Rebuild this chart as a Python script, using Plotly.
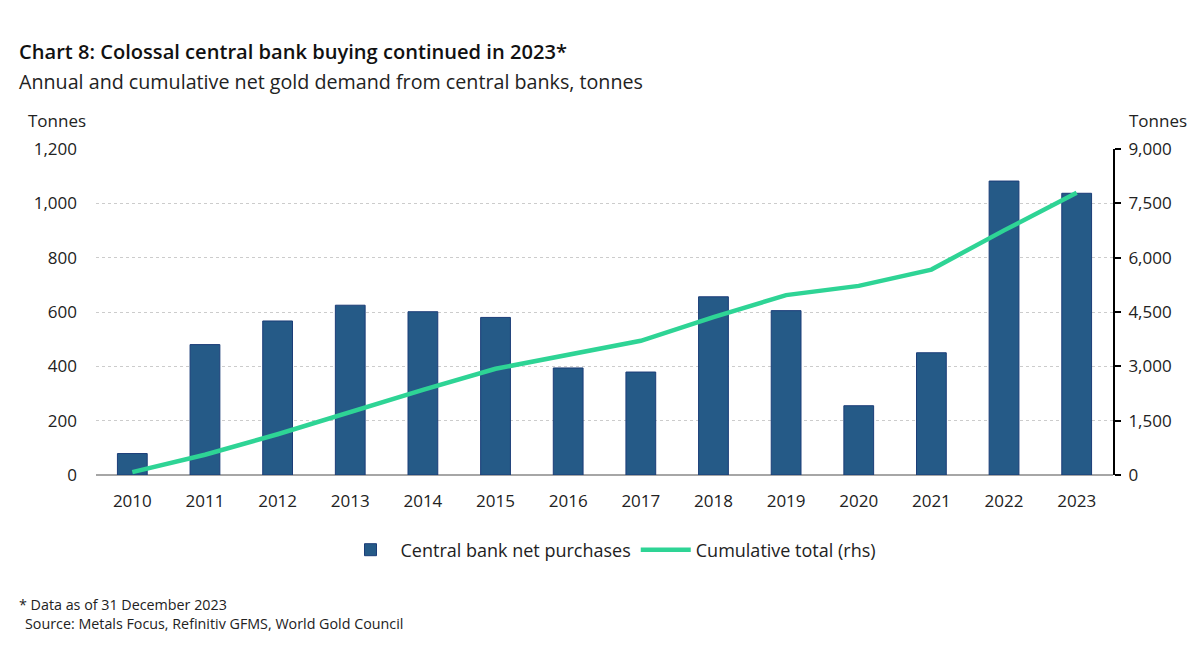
import plotly.graph_objects as go

years = ["2010", "2011", "2012", "2013", "2014", "2015", "2016", "2017",
         "2018", "2019", "2020", "2021", "2022", "2023"]
net_purchases = [79, 480, 567, 625, 601, 580, 394, 379, 656, 605, 255, 450, 1082, 1037]
cumulative = [79, 559, 1126, 1751, 2352, 2932, 3326, 3705, 4361, 4966, 5221, 5671, 6753, 7790]

left_ticks = [0, 200, 400, 600, 800, 1000, 1200]
right_ticks = [0, 1500, 3000, 4500, 6000, 7500, 9000]

FONT = "Open Sans"
TXT = "#222222"

# plot area in pixels
X0, X1, Y0, Y1 = 96, 1113, 149, 475
def px(x):
    return (x - X0) / (X1 - X0)
def py(y):
    return (Y1 - y) / (Y1 - Y0)

fig = go.Figure()
fig.add_trace(go.Bar(
    x=years, y=net_purchases, name="Central bank net purchases",
    marker=dict(color="#255A87", line=dict(color="#1B3D78", width=1)),
    yaxis="y",
))
fig.add_trace(go.Scatter(
    x=years, y=cumulative, name="Cumulative total (rhs)", mode="lines",
    line=dict(color="#2ED495", width=4.5),
    yaxis="y2",
))

fig.update_layout(
    width=1200, height=650,
    margin=dict(l=X0, r=1200 - X1, t=Y0, b=650 - Y1),
    paper_bgcolor="white", plot_bgcolor="white",
    font=dict(family=FONT, size=17, color=TXT),
    bargap=0.59,
    showlegend=True,
    legend=dict(orientation="h", x=px(611), xanchor="center", y=py(550), yanchor="middle",
                font=dict(size=18, color=TXT), itemwidth=50, tracegroupgap=0,
                traceorder="normal"),
    xaxis=dict(type="category", range=[-0.5, 13.5], showgrid=False, ticks="",
               ticklabelstandoff=14,
               tickfont=dict(size=17, color=TXT), showline=False),
    yaxis=dict(range=[0, 1200], tickvals=left_ticks, tickformat=",d",
               showgrid=True, gridcolor="#cccccc", griddash="dot", gridwidth=1,
               zeroline=True, zerolinecolor="#a6a6a6", zerolinewidth=1.5,
               showline=False, ticks="", ticklabelstandoff=18,
               tickfont=dict(size=17, color=TXT)),
    yaxis2=dict(range=[0, 9000], tickvals=right_ticks, tickformat=",d",
                overlaying="y", side="right", showgrid=False, zeroline=False,
                showline=True, linecolor="black", linewidth=2,
                ticks="outside", ticklen=6, tickwidth=2, tickcolor="black",
                ticklabelstandoff=4,
                tickfont=dict(size=17, color=TXT)),
)

annotations = [
    dict(text="Chart 8: Colossal central bank buying continued in 2023*",
         x=px(17), y=py(52), font=dict(size=20.1, color="#111111", weight=600)),
    dict(text="Annual and cumulative net gold demand from central banks, tonnes",
         x=px(17), y=py(81), font=dict(size=19.7, color=TXT)),
    dict(text="Tonnes", x=px(26), y=py(120), font=dict(size=17, color=TXT)),
    dict(text="Tonnes", x=px(1127), y=py(120), font=dict(size=17, color=TXT)),
    dict(text="* Data as of 31 December 2023", x=px(17), y=py(604),
         font=dict(size=14.3, color=TXT)),
    dict(text="Source: Metals Focus, Refinitiv GFMS, World Gold Council", x=px(23), y=py(623),
         font=dict(size=14.3, color=TXT)),
]
for a in annotations:
    fig.add_annotation(xref="paper", yref="paper", xanchor="left", yanchor="middle",
                       showarrow=False, align="left", **a)

fig.write_html("out.html")
